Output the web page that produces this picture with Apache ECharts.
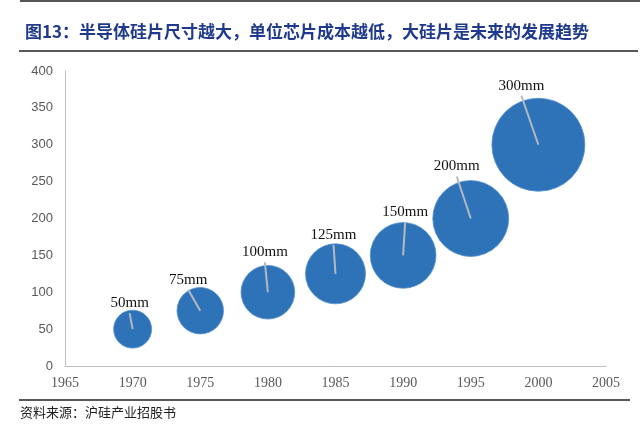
<!DOCTYPE html>
<html>
<head>
<meta charset="utf-8">
<script src="https://cdn.jsdelivr.net/npm/echarts@6/dist/echarts.min.js"></script>
<style>
html, body { margin: 0; padding: 0; background: #fff; }
#main { width: 640px; height: 426px; }
</style>
</head>
<body>
<div id="main"></div>
<script>
var years = [1970, 1975, 1980, 1985, 1990, 1995, 2000];
var values = [50, 75, 100, 125, 150, 200, 300];
var sizeLabels = ["50mm", "75mm", "100mm", "125mm", "150mm", "200mm", "300mm"];
var xTicks = [1965, 1970, 1975, 1980, 1985, 1990, 1995, 2000, 2005];
var yTicks = [0, 50, 100, 150, 200, 250, 300, 350, 400];

// label placement relative to bubble centre (pixels)
var labelShift = [[-3, -26], [-12, -31], [-3, -40], [-2, -39], [2, -43], [-14, -52], [-17, -59]];

var bubbleData = [];
for (var i = 0; i < years.length; i++) {
	bubbleData.push([years[i], values[i], sizeLabels[i]]);
}

function bubbleSize(val) {
	return 5.37 * Math.sqrt(val[1]);
}

var chart = echarts.init(document.getElementById("main"));
var option = {
	animation: false,
	title: {
		text: "图13：半导体硅片尺寸越大，单位芯片成本越低，大硅片是未来的发展趋势",
		left: 20,
		top: 18,
		textStyle: {
			fontFamily: "Noto Sans CJK SC",
			fontSize: 17,
			fontWeight: "bold",
			color: "#1f3a8c"
		}
	},
	graphic: [
		{ type: "line", shape: { x1: 20, y1: 1, x2: 640, y2: 1 }, style: { stroke: "#555", lineWidth: 2 } },
		{ type: "line", shape: { x1: 19, y1: 51, x2: 638, y2: 51 }, style: { stroke: "#222", lineWidth: 1.5 } },
		{ type: "line", shape: { x1: 19, y1: 400, x2: 630, y2: 400 }, style: { stroke: "#222", lineWidth: 1.5 } },
		{
			type: "text", left: 20, top: 406,
			style: { text: "资料来源：沪硅产业招股书", font: "13px 'Noto Sans CJK SC'", fill: "#222" }
		}
	],
	grid: { left: 65, right: 34, top: 71, bottom: 60 },
	xAxis: {
		type: "value",
		min: xTicks[0],
		max: xTicks[xTicks.length - 1],
		interval: 5,
		splitLine: { show: false },
		axisTick: { show: false },
		axisLine: { lineStyle: { color: "#bfbfbf", width: 1 } },
		axisLabel: {
			margin: 10, color: "#595959", fontFamily: "Liberation Serif", fontSize: 14,
			formatter: function (v) { return String(v); }
		}
	},
	yAxis: {
		type: "value",
		min: yTicks[0],
		max: yTicks[yTicks.length - 1],
		interval: 50,
		splitLine: { show: false },
		axisTick: { show: false },
		axisLine: { show: true, lineStyle: { color: "#bfbfbf", width: 1 } },
		axisLabel: { margin: 12, color: "#595959", fontFamily: "Liberation Sans", fontSize: 13 }
	},
	series: [
		{
			type: "scatter",
			data: bubbleData,
			symbolSize: bubbleSize,
			itemStyle: { color: "#2e72b8", borderColor: "#5b93cf", borderWidth: 0.8, opacity: 1 },
			z: 2
		},
		{
			type: "custom",
			data: bubbleData,
			z: 5,
			renderItem: function (params, api) {
				var c = api.coord([api.value(0), api.value(1)]);
				var s = labelShift[params.dataIndex];
				var lx = c[0] + s[0];
				var ly = c[1] + s[1];
				return {
					type: "group",
					children: [
						{
							type: "line",
							shape: { x1: c[0], y1: c[1], x2: lx, y2: ly + 10 },
							style: { stroke: "#b4b9c0", lineWidth: 2 }
						},
						{
							type: "text",
							style: {
								x: lx, y: ly,
								text: sizeLabels[params.dataIndex],
								align: "center",
								verticalAlign: "middle",
								font: "15px 'Liberation Serif'",
								fill: "#111"
							}
						}
					]
				};
			}
		}
	]
};
chart.setOption(option);
</script>
</body>
</html>
